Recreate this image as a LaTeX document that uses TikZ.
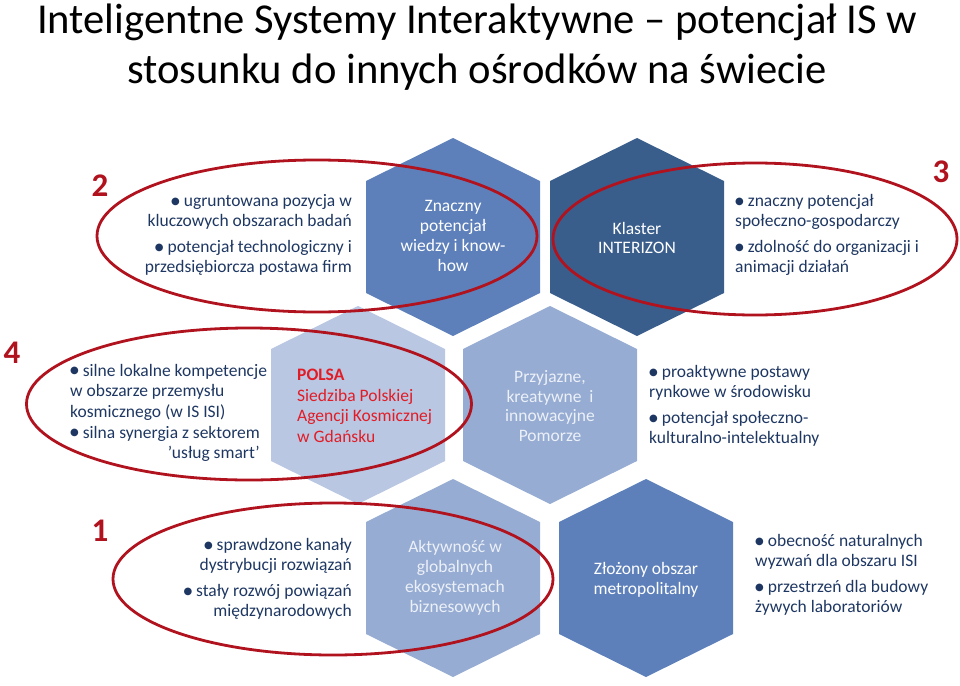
\documentclass[tikz,border=0pt]{standalone}
\usepackage{fontspec}
\setmainfont{Carlito}
\newfontfamily\bulletfont{DejaVu Sans}
\usetikzlibrary{shapes.geometric}
\definecolor{hexmid}{RGB}{94,128,186}
\definecolor{hexdark}{RGB}{58,94,140}
\definecolor{hexsoft}{RGB}{150,172,210}
\definecolor{hexpale}{RGB}{185,199,226}
\definecolor{ringred}{RGB}{176,18,30}
\definecolor{navytext}{RGB}{30,55,98}
\definecolor{polsared}{RGB}{226,28,38}
\definecolor{softwhite}{RGB}{236,240,248}
\newcommand{\bul}{\raisebox{2.4pt}{\bulletfont\fontsize{10}{10}\selectfont ●}\ }

\begin{document}
\begin{tikzpicture}[x=1pt,y=-1pt, every node/.style={font=\fontsize{17.5}{19.8}\selectfont,inner sep=0pt}, hextxt/.style={align=center,text=white}, bultxt/.style={text=navytext}, ring/.style={draw=ringred,line width=2.8pt,ellipse,minimum width=#1,minimum height=152pt}, num/.style={text=ringred,font=\fontsize{33}{33}\selectfont\bfseries}, pics/hexa/.style={code={\fill[#1] (0,-99) -- (87,-56) -- (87,56) -- (0,99) -- (-87,56) -- (-87,-56) -- cycle;}}]
\useasboundingbox (0,0) rectangle (960,685);
\node[font=\fontsize{42.6}{50}\selectfont,align=center] (title) at (477,47) {Inteligentne Systemy Interaktywne – potencjał IS w\\stosunku do innych ośrodków na świecie};
% plaster miodu
\pic at (453,237) {hexa=hexmid};
\pic at (637,237) {hexa=hexdark};
\pic at (358,405) {hexa=hexpale};
\pic at (550,405) {hexa=hexsoft};
\pic at (453,578) {hexa=hexsoft};
\pic at (646,578) {hexa=hexmid};
\node[hextxt] (wiedza) at (453,236) {Znaczny\\potencjał\\wiedzy i know-\\how};
\node[hextxt] (klaster) at (637,238) {Klaster\\INTERIZON};
\node[align=left,text=polsared,anchor=west,font=\fontsize{17.5}{20.6}\selectfont] (polsa) at (297,406) {\textbf{POLSA}\\Siedziba Polskiej\\Agencji Kosmicznej\\w Gdańsku};
\node[hextxt,text=softwhite] (pomorze) at (550,406) {Przyjazne,\\kreatywne\ \ i\\innowacyjne\\Pomorze};
\node[hextxt,text=softwhite] (aktywnosc) at (455,578) {Aktywność w\\globalnych\\ekosystemach\\biznesowych};
\node[hextxt] (metropolia) at (646,580) {Złożony obszar\\metropolitalny};
% atuty
\node[bultxt,align=right,anchor=east] (atuty2) at (352,235) {\bul ugruntowana pozycja w\\kluczowych obszarach badań\\[6pt]\bul potencjał technologiczny i\\przedsiębiorcza postawa firm};
\node[bultxt,align=left,anchor=west] (atuty3) at (735,235) {\bul znaczny potencjał\\społeczno-gospodarczy\\[6pt]\bul zdolność do organizacji i\\animacji działań};
\node[bultxt,align=left,anchor=west,font=\fontsize{17.5}{20.7}\selectfont] (atuty4) at (70,413) {\bul silne lokalne kompetencje\\w obszarze przemysłu\\kosmicznego (w IS ISI)\\\bul silna synergia z sektorem\\\hphantom{\bul silna synergia z sektorem}\llap{’usług smart’}};
\node[bultxt,align=left,anchor=west] (atutyP) at (649,406) {\bul proaktywne postawy\\rynkowe w środowisku\\[6pt]\bul potencjał społeczno-\\kulturalno-intelektualny};
\node[bultxt,align=right,anchor=east] (atuty1) at (352,579) {\bul sprawdzone kanały\\dystrybucji rozwiązań\\[6pt]\bul stały rozwój powiązań\\międzynarodowych};
\node[bultxt,align=left,anchor=west] (atutyM) at (755,575) {\bul obecność naturalnych\\wyzwań dla obszaru ISI\\[6pt]\bul przestrzeń dla budowy\\żywych laboratoriów};
% obwiednie
\node[ring=440pt] (ring2) at (317,236) {};
\node[ring=404pt] (ring3) at (755,239) {};
\node[ring=445pt] (ring4) at (249,404) {};
\node[ring=440pt] (ring1) at (333,579) {};
\node[num] (n2) at (100,186) {2};
\node[num] (n3) at (941,172) {3};
\node[num] (n4) at (12,353) {4};
\node[num] (n1) at (100,531) {1};
\end{tikzpicture}
\end{document}
